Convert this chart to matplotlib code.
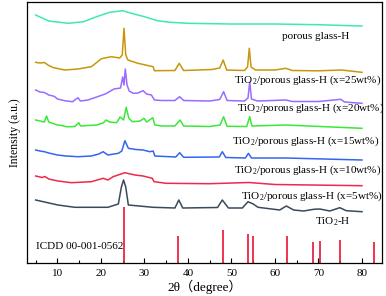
import matplotlib
matplotlib.use("Agg")
import matplotlib.pyplot as plt
from matplotlib.ticker import MultipleLocator

plt.rcParams['font.family'] = ['Liberation Serif', 'Noto Sans CJK SC', 'DejaVu Sans']
plt.rcParams['mathtext.fontset'] = 'custom'
plt.rcParams['mathtext.rm'] = 'Liberation Serif'
plt.rcParams['mathtext.it'] = 'Liberation Serif:italic'

# ---- data (intensity in arbitrary units, already offset) ----
pg_x = [5, 8, 12.5, 16, 19, 22, 25, 27, 30, 33, 36, 40, 50, 60, 70, 80]
pg_y = [248, 242, 239.7, 241.3, 246.3, 250.7, 252.3, 249.7, 246.3, 242.3, 240.7, 239.7, 239, 239, 238.3, 237]

x25_x = [5, 6, 7, 8, 9, 10, 11.7, 14.7, 17.8, 20.1, 22.4, 24.3, 24.9, 25.3, 25.7, 26.2, 28.5, 32,
         32.3, 37, 38.0, 39, 45.5, 47.3, 48.1, 48.9, 53, 53.7, 54.1, 54.5, 55.5, 60, 62.5, 64, 70,
         75.3, 80]
x25_y = [200.7, 200, 200.5, 197.5, 195.5, 194.5, 193, 194, 196.3, 204.3, 206.3, 205, 208, 234.7,
         208, 203, 199.7, 196.3, 192.3, 192.5, 199.7, 192.5, 193.5, 195, 203, 193, 192.5, 196,
         214.7, 196, 193, 193, 194.7, 192.5, 192.2, 193, 190.7]

x20_x = [5, 6, 7, 8, 9, 9.4, 10, 12, 13.5, 14.7, 15.3, 17, 19, 21, 23, 24.5, 25.0, 25.3, 25.6, 26,
         26.5, 27.4, 28.5, 29.7, 30.5, 31.6, 32.3, 34, 37, 38.1, 39, 45, 47.3, 48.2, 49, 53, 53.8,
         54.2, 54.6, 56, 62.5, 64, 70, 75.1, 76, 80]
x20_y = [173, 171, 170.5, 168, 167, 166.3, 164, 162, 161.3, 165.3, 162, 163, 166, 169, 174, 175,
         186, 178, 194, 178, 172, 169.7, 170, 172.3, 169, 168, 163, 162.5, 162.5, 166.3, 162.5,
         162, 163.5, 171.3, 162.5, 162, 165, 181, 164, 162, 163, 161.5, 161.5, 163.7, 161, 159.7]

x15_x = [5, 6.5, 7.0, 7.5, 8, 9, 10, 11, 12, 13, 14, 14.9, 15.3, 17, 19, 20.5, 21.2, 22, 23.6, 24.4,
         25.2, 25.8, 26.4, 27.2, 29.0, 29.9, 30.5, 31.9, 32.4, 34, 37, 38.2, 39, 45, 47.4, 48.2, 49,
         53.5, 54.2, 54.7, 62.5, 80]
x15_y = [143, 141.5, 141, 147, 141, 139.5, 138, 137.5, 136.3, 136.3, 136.5, 140.3, 137, 137.5, 138,
         140, 143, 141, 140.3, 146, 143, 155.7, 145, 141.3, 142, 144.7, 141, 145.3, 138, 137, 137,
         143, 137, 136.5, 138, 146.3, 136.7, 136.5, 146.3, 137, 138, 134.7]

x10_x = [5, 6, 7, 8, 10, 12, 14.7, 17.8, 19.5, 20.5, 21.6, 24, 24.8, 25.5, 26.3, 28, 29.7, 31.2, 32,
         32.4, 37.2, 38.1, 39, 47.2, 47.9, 48.7, 53.2, 53.9, 54.6, 62.5, 80]
x10_y = [113, 112, 111.3, 110, 108, 107, 106.3, 107, 109, 111.3, 108, 109.7, 112, 122.3, 114.7,
         113.5, 113, 111.3, 112, 107, 106, 110.3, 105.7, 106, 111.3, 105.5, 105, 109.7, 105, 105,
         103]

x5_x = [5, 6.5, 7.1, 8, 10.1, 13.2, 17.8, 20.5, 21.6, 22.8, 25.5, 27.8, 29.7, 31.8, 32.2, 35, 45,
        54, 60, 80]
x5_y = [87, 85.5, 86.5, 84, 82, 80.3, 81.3, 84.7, 83, 86.3, 90.3, 88, 87, 84.7, 81.3, 79.7, 79.3,
        80.5, 78.5, 77.3]

ti_x = [5, 10.1, 14, 21.6, 24, 24.7, 25.2, 25.7, 26.3, 32, 37.0, 37.9, 38.8, 46.8, 47.9, 49.3,
        52.5, 53.8, 55.0, 56.1, 61.1, 62.6, 64.3, 66.6, 68.9, 70.3, 72.6, 74.9, 76.4, 80]
ti_y = [63, 58, 55.7, 55.7, 59, 76, 83, 76, 58, 55.7, 55, 63, 55, 55.5, 63, 55, 55, 61.3, 59, 55.7,
        53, 57, 53, 52, 53.7, 54, 52, 55.3, 52.3, 51.3]

ref_pos = [25.28, 37.80, 48.05, 53.89, 55.06, 62.69, 68.76, 70.31, 75.03, 82.66]
ref_int = [56, 27, 33, 28.5, 27, 27, 21, 22, 23, 20.5]

series = [
    (pg_x, pg_y, '#40E8B0'),
    (x25_x, x25_y, '#C8960C'),
    (x20_x, x20_y, '#9A6BFF'),
    (x15_x, x15_y, '#3AE83A'),
    (x10_x, x10_y, '#3366EE'),
    (x5_x, x5_y, '#F0284A'),
    (ti_x, ti_y, '#3A4A5C'),
]

fig = plt.figure(figsize=(3.86, 2.96), dpi=100)
ax = fig.add_axes([0.0699, 0.1115, 0.9197, 0.8817])

for xs, ys, c in series:
    ax.plot(xs, ys, color=c, lw=1.1)

ax.vlines(ref_pos, 0, ref_int, color='#EE2244', lw=1.3)

fs = 8
ax.text(69.4, 227, 'porous glass-H', ha='center', va='center', fontsize=fs)
ax.text(67.4, 183, 'TiO$_2$/porous glass-H (x=25wt%)', ha='center', va='center', fontsize=fs)
ax.text(68.1, 154.7, 'TiO$_2$/porous glass-H (x=20wt%)', ha='center', va='center', fontsize=fs)
ax.text(67.0, 121.3, 'TiO$_2$/porous glass-H (x=15wt%)', ha='center', va='center', fontsize=fs)
ax.text(67.5, 93, 'TiO$_2$/porous glass-H (x=10wt%)', ha='center', va='center', fontsize=fs)
ax.text(68.4, 66.3, 'TiO$_2$/porous glass-H (x=5wt%)', ha='center', va='center', fontsize=fs)
ax.text(73.3, 41.3, 'TiO$_2$-H', ha='center', va='center', fontsize=fs)
ax.text(5.0, 16.3, 'ICDD 00-001-0562', ha='left', va='center', fontsize=fs)

ax.set_xlim(3, 84.6)
ax.set_ylim(0, 261)
ax.xaxis.set_major_locator(MultipleLocator(10))
ax.xaxis.set_minor_locator(MultipleLocator(5))
ax.tick_params(axis='x', which='major', direction='in', length=3.5, width=0.8, labelsize=8, pad=4.5)
ax.tick_params(axis='x', which='minor', direction='in', length=2, width=0.8)
ax.set_yticks([])
for s in ax.spines.values():
    s.set_linewidth(0.9)

ax.set_xlabel('2θ（degree）', fontsize=9.5, labelpad=1)
ax.set_ylabel('Intensity (a.u.)', fontsize=8.5, labelpad=4)

fig.savefig('out.png', dpi=100)
